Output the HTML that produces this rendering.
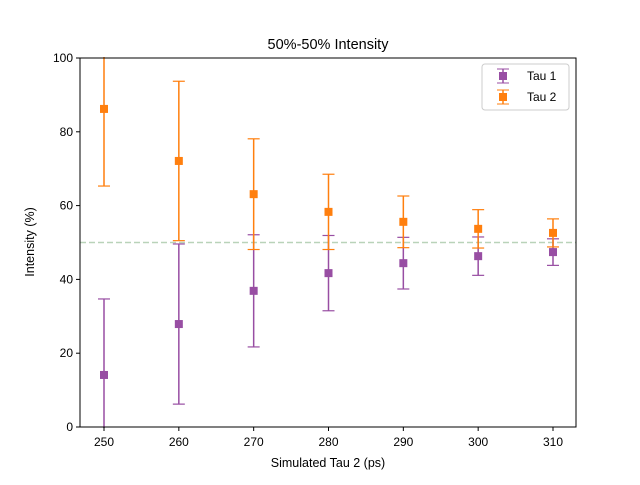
<!DOCTYPE html>
<html><head><meta charset="utf-8"><style>
body{margin:0;background:#fff;font-family:"Liberation Sans","DejaVu Sans",sans-serif}
</style></head><body>
<svg id="chart" width="640" height="480" xmlns="http://www.w3.org/2000/svg">
<rect width="640" height="480" fill="#fff"/>
<defs><clipPath id="clip"><rect x="80" y="57" width="497" height="371"/></clipPath></defs>
<g id="plot" clip-path="url(#clip)"></g>
<g id="axes"></g>
</svg>
<script>
const categories=[250,260,270,280,290,300,310];
const tau1Values=[14.1,27.9,36.9,41.7,44.4,46.3,47.4];
const tau1Errors=[20.6,21.7,15.2,10.2,7.0,5.2,3.6];
const tau2Values=[86.2,72.1,63.1,58.3,55.6,53.7,52.6];
const tau2Errors=[20.9,21.6,15.0,10.2,7.0,5.2,3.8];
const xTicks=[250,260,270,280,290,300,310];
const yTicks=[0,20,40,60,80,100];
const refLine=50;
const NS="http://www.w3.org/2000/svg";
const X0=80,X1=576,Y0=427,Y1=58;
const xs=v=>104+(v-250)*(553-104)/60;
const ys=v=>Y0-(v-0)*(Y0-Y1)/100;
function el(t,a,p){const e=document.createElementNS(NS,t);for(const k in a)e.setAttribute(k,a[k]);p.appendChild(e);return e;}
const plot=document.getElementById('plot'),axes=document.getElementById('axes');
let d=el('line',{x1:X0,x2:X1,y1:ys(refLine),y2:ys(refLine),stroke:'#b9d3b9','stroke-width':1.5,'stroke-dasharray':'6,3'},plot);


function series(vals,errs,color,name){
 const g=el('g',{},plot);
 
 
 categories.forEach((c,i)=>{
  const x=xs(c),v=vals[i],e=errs[i];
  el('line',{x1:x,x2:x,y1:ys(v-e),y2:ys(v+e),stroke:color,'stroke-width':1.5},g);
  el('line',{x1:x-6,x2:x+6,y1:ys(v-e),y2:ys(v-e),stroke:color,'stroke-width':1.2},g);
  el('line',{x1:x-6,x2:x+6,y1:ys(v+e),y2:ys(v+e),stroke:color,'stroke-width':1.2},g);
  const m=el('rect',{x:x-4,y:ys(v)-4,width:8,height:8,fill:color},g);
  
  
 });
}
series(tau1Values,tau1Errors,'#984ea3','tau1');
series(tau2Values,tau2Errors,'#ff7f0e','tau2');
el('rect',{x:X0,y:Y1,width:X1-X0,height:Y0-Y1,fill:'none',stroke:'#000','stroke-width':1},axes);
xTicks.forEach(t=>{const x=xs(t);el('line',{x1:x,x2:x,y1:Y0,y2:Y0+4,stroke:'#000'},axes);
 const tx=el('text',{x:x,y:Y0+19,'text-anchor':'middle','font-size':12},axes);tx.textContent=t;
 
 });
yTicks.forEach(t=>{const y=ys(t);el('line',{x1:X0-4,x2:X0,y1:y,y2:y,stroke:'#000'},axes);
 const tx=el('text',{x:X0-7,y:y+4,'text-anchor':'end','font-size':12},axes);tx.textContent=t;
 
 });
let t=el('text',{x:328,y:49,'text-anchor':'middle','font-size':14.5},axes);t.textContent='50%-50% Intensity';


t=el('text',{x:328,y:467,'text-anchor':'middle','font-size':12.5},axes);t.textContent='Simulated Tau 2 (ps)';


t=el('text',{x:34,y:242,'text-anchor':'middle','font-size':12.5,transform:'rotate(-90 34 242)'},axes);t.textContent='Intensity (%)';


const lg=el('g',{},axes);


el('rect',{x:482,y:64,width:87,height:46,rx:3,fill:'#fff',stroke:'#ccc'},lg);
[['Tau 1','#984ea3',76],['Tau 2','#ff7f0e',97]].forEach(([n,c,y])=>{
 const e=el('g',{},lg);
 
 
 el('line',{x1:503,x2:503,y1:y-7,y2:y+7,stroke:c,'stroke-width':1.5},e);
 el('line',{x1:497,x2:509,y1:y-7,y2:y-7,stroke:c},e);
 el('line',{x1:497,x2:509,y1:y+7,y2:y+7,stroke:c},e);
 el('rect',{x:499,y:y-4,width:8,height:8,fill:c},e);
 const tx=el('text',{x:527,y:y+4,'font-size':12},e);tx.textContent=n;
});
</script>
</body></html>
